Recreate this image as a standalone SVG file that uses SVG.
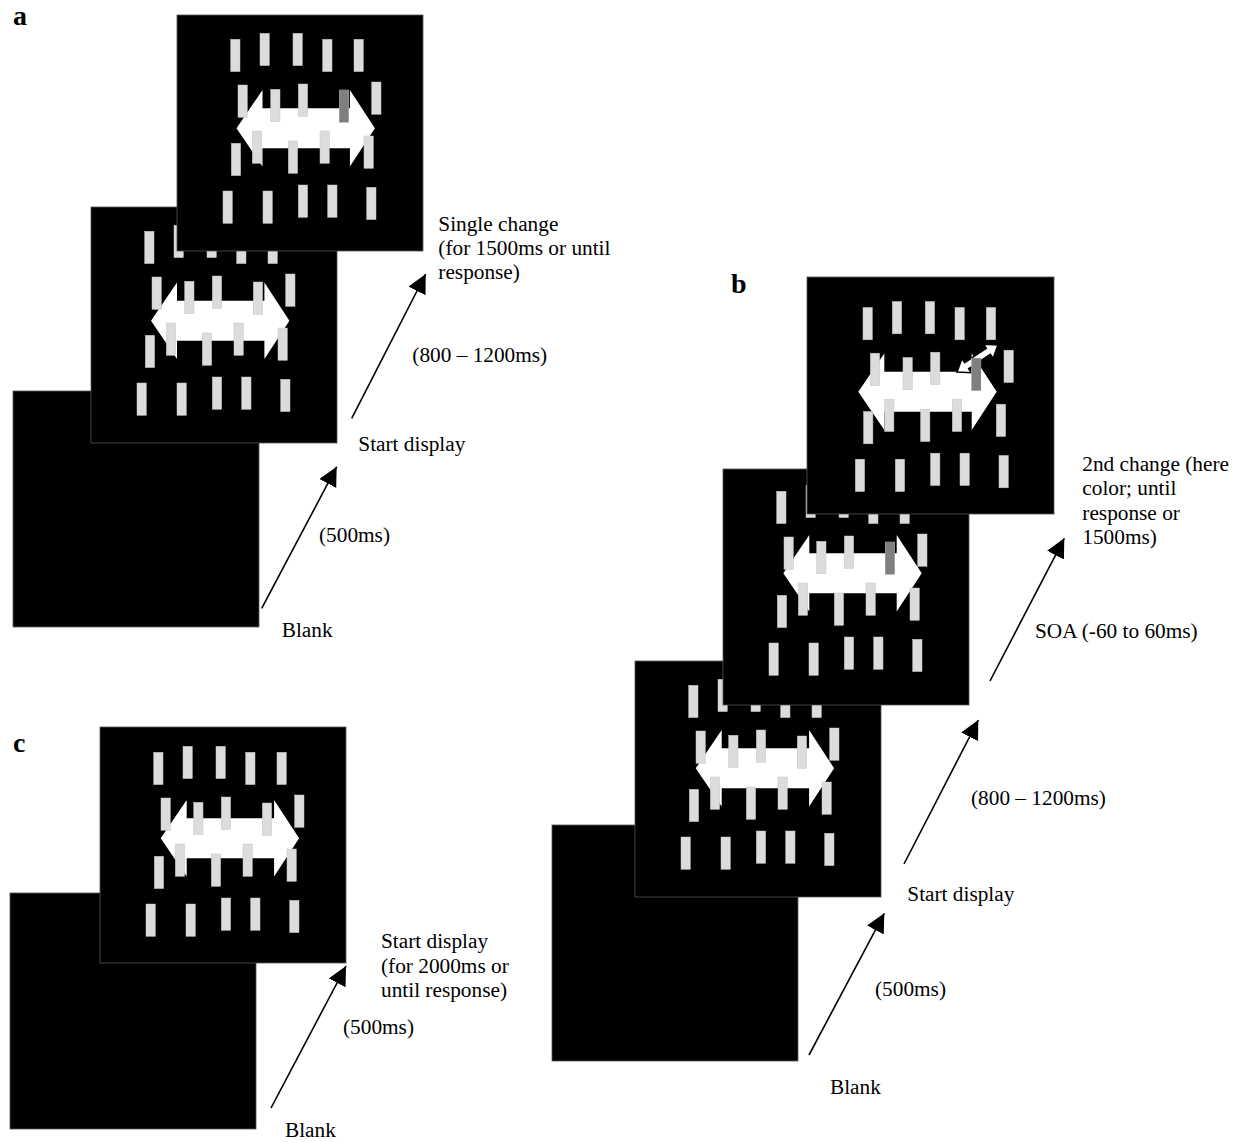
<svg xmlns="http://www.w3.org/2000/svg" xmlns:xlink="http://www.w3.org/1999/xlink" width="1238" height="1142" viewBox="0 0 1238 1142">
<style>
.scr{fill:#000;stroke:#555;stroke-width:0.8}
.bar{fill:#dcdcdc;stroke:#c4c4c4;stroke-width:0.5}
.dark{fill:#7f7f7f}
.big{fill:#fff}
.txt{font-family:"Liberation Serif","Times New Roman",serif;font-size:21.3px;fill:#000}
.lbl{font-family:"Liberation Serif","Times New Roman",serif;font-size:28px;font-weight:bold;fill:#000}
.con{stroke:#000;stroke-width:1.6;fill:none;marker-end:url(#head)}
</style>
<defs>
<marker id="head" markerUnits="userSpaceOnUse" markerWidth="20" markerHeight="20" refX="19" refY="9.5" orient="auto">
<path d="M0,0 L19,9.5 L0,19 z" fill="#000"/>
</marker>
<g id="bars">
<rect class="bar" x="53.7" y="24.3" width="9.3" height="32.3"/>
<rect class="bar" x="83" y="18.3" width="9.3" height="32.3"/>
<rect class="bar" x="116" y="18.3" width="9.3" height="32.3"/>
<rect class="bar" x="145.7" y="24.3" width="9.3" height="32.3"/>
<rect class="bar" x="177" y="24.3" width="9.3" height="32.3"/>
<rect class="bar" x="61" y="70" width="9.3" height="32.3"/>
<rect class="bar" x="93.7" y="74.3" width="9.3" height="32.3"/>
<rect class="bar" x="121.3" y="69" width="9.3" height="32.3"/>
<rect class="bar" x="162.3" y="75" width="9.3" height="32.3"/>
<rect class="bar" x="194.7" y="67" width="9.3" height="32.3"/>
<rect class="bar" x="54.3" y="128.3" width="9.3" height="32.3"/>
<rect class="bar" x="75.3" y="116" width="9.3" height="32.3"/>
<rect class="bar" x="111.3" y="126" width="9.3" height="32.3"/>
<rect class="bar" x="143" y="116" width="9.3" height="32.3"/>
<rect class="bar" x="187" y="121" width="9.3" height="32.3"/>
<rect class="bar" x="46" y="176" width="9.3" height="32.3"/>
<rect class="bar" x="86" y="176" width="9.3" height="32.3"/>
<rect class="bar" x="121.3" y="170" width="9.3" height="32.3"/>
<rect class="bar" x="150.7" y="170" width="9.3" height="32.3"/>
<rect class="bar" x="189.7" y="172.3" width="9.3" height="32.3"/>
</g>
<path id="dbl" class="big" d="M0,0 L26,-38.3 L26,-20 L113.4,-20 L113.4,-38.3 L138.4,0 L113.4,38.3 L113.4,20 L26,20 L26,38.3 z"/>
</defs>

<g id="panel-a">
<g id="a-blank"><rect class="scr" x="13" y="391" width="246" height="236"/></g>
<g id="a-start">
<rect class="scr" x="91" y="207" width="246" height="236"/>
<use href="#dbl" x="151" y="320.7"/>
<use href="#bars" x="91" y="207"/>
</g>
<g id="a-change">
<rect class="scr" x="177" y="15" width="246" height="236"/>
<use href="#dbl" x="236.5" y="128.3"/>
<use href="#bars" x="177" y="15"/>
<rect class="dark" x="339.3" y="90" width="9.3" height="32.3"/>
</g>
</g>

<g id="panel-b">
<g id="b-blank"><rect class="scr" x="552" y="825" width="246" height="236"/></g>
<g id="b-start">
<rect class="scr" x="635" y="661" width="246" height="236"/>
<use href="#dbl" x="695.7" y="768.3"/>
<use href="#bars" x="635" y="661"/>
</g>
<g id="b-change1">
<rect class="scr" x="723" y="469" width="246" height="236"/>
<use href="#dbl" x="783.3" y="573.3"/>
<use href="#bars" x="723" y="467"/>
<rect class="dark" x="885.3" y="542" width="9.3" height="32.3"/>
</g>
<g id="b-change2">
<rect class="scr" x="807" y="277" width="247" height="237"/>
<use href="#dbl" x="858.3" y="391.7"/>
<path d="M-24.5,0 L-13,-8.5 L-13,-3.6 L13,-3.6 L13,-8.5 L24.5,0 L13,8.5 L13,3.6 L-13,3.6 L-13,8.5 z" fill="#fff" stroke="#000" stroke-width="1.5" transform="translate(977.5,358.5) rotate(-33.4)"/>
<use href="#bars" x="809.3" y="283.2"/>
<rect class="dark" x="971.6" y="358.2" width="9.3" height="32.3"/>
</g>
</g>

<g id="panel-c">
<g id="c-blank"><rect class="scr" x="10" y="893" width="246" height="236"/></g>
<g id="c-start">
<rect class="scr" x="100" y="727" width="246" height="236"/>
<use href="#dbl" x="160.7" y="838.3"/>
<use href="#bars" x="100" y="728"/>
</g>
</g>

<g id="connectors">
<line class="con" x1="261.7" y1="608.3" x2="336.7" y2="466.7"/>
<line class="con" x1="351.7" y1="418.3" x2="425.7" y2="274"/>
<line class="con" x1="809" y1="1055" x2="884.3" y2="913.3"/>
<line class="con" x1="904" y1="864" x2="978.3" y2="720"/>
<line class="con" x1="990" y1="681" x2="1064.3" y2="538.3"/>
<line class="con" x1="271" y1="1108" x2="346" y2="966"/>
</g>

<g id="labels">
<text class="lbl" x="13" y="25">a</text>
<text class="lbl" x="731" y="293">b</text>
<text class="lbl" x="13" y="752">c</text>

<text class="txt" x="438.3" y="231">Single change</text>
<text class="txt" x="438.3" y="255">(for 1500ms or until</text>
<text class="txt" x="438.3" y="278.5">response)</text>
<text class="txt" x="412.3" y="362">(800 – 1200ms)</text>
<text class="txt" x="358.3" y="451">Start display</text>
<text class="txt" x="319" y="542">(500ms)</text>
<text class="txt" x="281.7" y="637">Blank</text>

<text class="txt" x="1082.3" y="470.5">2nd change (here</text>
<text class="txt" x="1082.3" y="495">color; until</text>
<text class="txt" x="1082.3" y="519.5">response or</text>
<text class="txt" x="1082.3" y="544">1500ms)</text>
<text class="txt" x="1035" y="638">SOA (-60 to 60ms)</text>
<text class="txt" x="971" y="805">(800 – 1200ms)</text>
<text class="txt" x="907.3" y="901">Start display</text>
<text class="txt" x="875" y="996">(500ms)</text>
<text class="txt" x="830" y="1094">Blank</text>

<text class="txt" x="381" y="948">Start display</text>
<text class="txt" x="381" y="973">(for 2000ms or</text>
<text class="txt" x="381" y="997">until response)</text>
<text class="txt" x="343" y="1034">(500ms)</text>
<text class="txt" x="285" y="1137">Blank</text>
</g>
</svg>
